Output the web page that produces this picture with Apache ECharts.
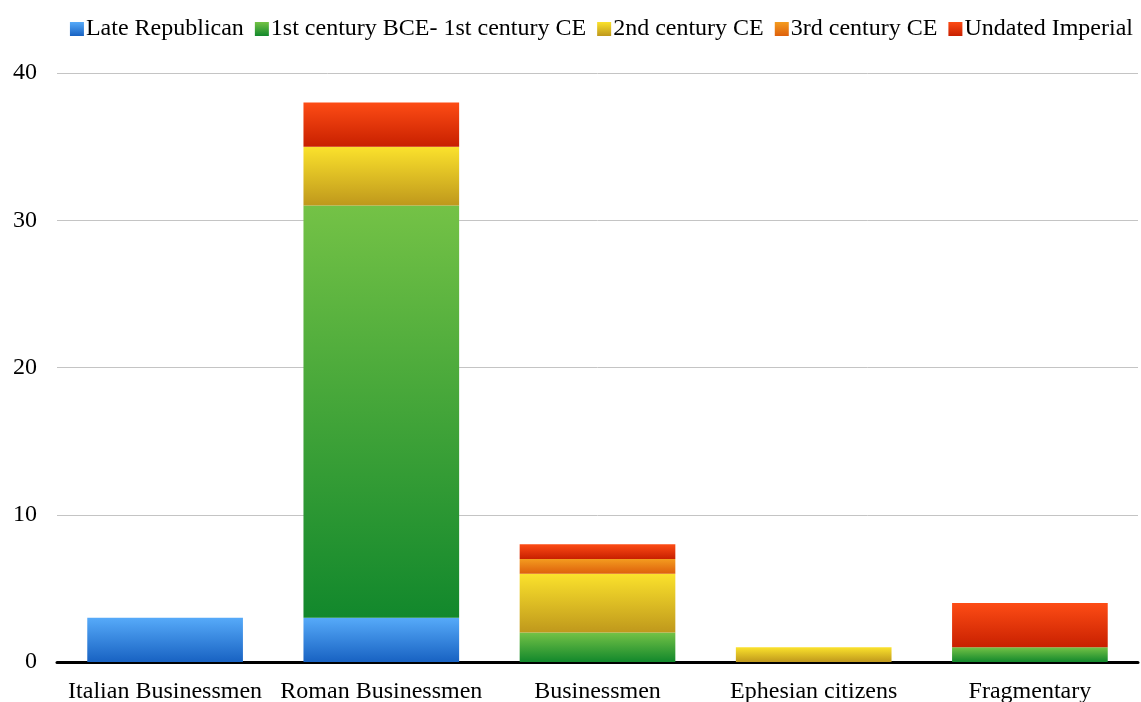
<!DOCTYPE html>
<html>
<head>
<meta charset="utf-8">
<script src="https://cdn.jsdelivr.net/npm/echarts@6/dist/echarts.min.js"></script>
<style>
  html, body { margin: 0; padding: 0; background: #fff; }
  #chart { width: 1141px; height: 702px; }
</style>
</head>
<body>
<div id="chart"></div>
<script>
var categories = ["Italian Businessmen", "Roman Businessmen", "Businessmen", "Ephesian citizens", "Fragmentary"];
var seriesNames = ["Late Republican", "1st century BCE- 1st century CE", "2nd century CE", "3rd century CE", "Undated Imperial"];
var lateRepublican = [3, 3, 0, 0, 0];
var firstCentury = [0, 28, 2, 0, 1];
var secondCentury = [0, 4, 4, 1, 0];
var thirdCentury = [0, 0, 1, 0, 0];
var undatedImperial = [0, 3, 1, 0, 3];
var yTicks = [0, 10, 20, 30, 40];

// top / bottom colours of each gradient
var gradients = [
  ["#56aaf9", "#1862c2"],
  ["#74c246", "#12882c"],
  ["#fbe22c", "#bf981c"],
  ["#f49c1f", "#de600c"],
  ["#fd4c15", "#c82000"]
];

function grad(c) {
  return new echarts.graphic.LinearGradient(0, 0, 0, 1, [
    { offset: 0, color: c[0] },
    { offset: 1, color: c[1] }
  ]);
}

var values = [lateRepublican, firstCentury, secondCentury, thirdCentury, undatedImperial];
var series = values.map(function (v, i) {
  return {
    name: seriesNames[i],
    type: "bar",
    stack: "total",
    barWidth: "72%",
    data: v.map(function (x) { return x === 0 ? null : x; }),
    itemStyle: { color: grad(gradients[i]) }
  };
});

var chart = echarts.init(document.getElementById("chart"));
chart.setOption({
  animation: false,
  textStyle: { fontFamily: "Liberation Serif", color: "#000" },
  legend: {
    top: 12,
    right: 3,
    itemWidth: 14,
    itemHeight: 14,
    itemGap: 11,
    icon: "rect",
    textStyle: { fontFamily: "Liberation Serif", fontSize: 24, color: "#000", padding: [0, 0, 0, -3] },
    data: seriesNames.map(function (n, i) {
      return { name: n, itemStyle: { color: grad(gradients[i]) } };
    })
  },
  grid: { left: 57, right: 3, top: 73, bottom: 40, outerBoundsMode: "none" },
  xAxis: {
    type: "category",
    data: categories,
    axisTick: { show: false },
    axisLine: { lineStyle: { color: "#000", width: 3 } },
    axisLabel: { fontFamily: "Liberation Serif", fontSize: 24, color: "#000", margin: 18, interval: 0 }
  },
  yAxis: {
    type: "value",
    min: yTicks[0],
    max: yTicks[yTicks.length - 1],
    interval: 10,
    axisLine: { show: false },
    axisTick: { show: false },
    axisLabel: { fontFamily: "Liberation Serif", fontSize: 24, color: "#000", margin: 20 },
    splitLine: { lineStyle: { color: "#c4c4c4", width: 1 } }
  },
  series: series
});
</script>
</body>
</html>
